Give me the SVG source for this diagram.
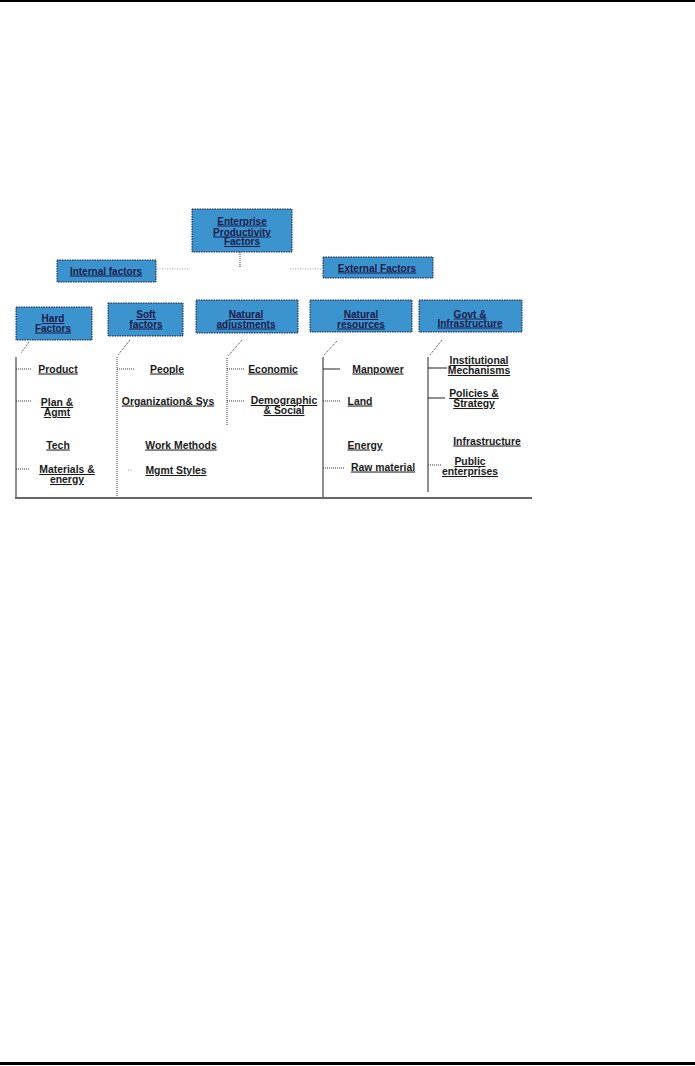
<svg xmlns="http://www.w3.org/2000/svg" width="695" height="1066" viewBox="0 0 695 1066">
<style>
.box{fill:#3c94cf;stroke:#1b1b3a;stroke-width:1;stroke-dasharray:1.5 1}
.bt{font-family:"Liberation Sans",Arial,sans-serif;font-size:10px;font-weight:bold;fill:#1a1a4a;text-decoration:underline;text-anchor:middle}
.it{font-family:"Liberation Sans",Arial,sans-serif;font-size:10.4px;font-weight:bold;fill:#1a1a1a;text-decoration:underline;text-anchor:middle}
.dot{stroke:#333;stroke-width:1;stroke-dasharray:1 1;fill:none}
.sol{stroke:#222;stroke-width:1;fill:none}
.lt{stroke:#999;stroke-width:1;stroke-dasharray:1 1.5;fill:none}
</style>
<rect x="0" y="0" width="695" height="2" fill="#000"/>
<rect x="0" y="1062" width="695" height="3" fill="#000"/>
<g id="connectors">
<line class="lt" x1="157" y1="269" x2="188" y2="269"/>
<line class="lt" x1="290" y1="269" x2="322" y2="269"/>
<line class="dot" x1="240" y1="252" x2="240" y2="268"/>
<line x1="15" y1="498" x2="532" y2="498" stroke="#333" stroke-width="1.5"/>
<path class="dot" d="M29 342 L21 353"/>
<line class="sol" x1="16" y1="357" x2="16" y2="497"/>
<line class="dot" x1="16" y1="369" x2="32" y2="369"/>
<line class="dot" x1="16" y1="401" x2="32" y2="401"/>
<line class="dot" x1="16" y1="469" x2="30" y2="469"/>
<path class="dot" d="M130 340 L118 355 M117 357 L117 497"/>
<line class="dot" x1="117" y1="369" x2="134" y2="369"/>
<line class="lt" x1="128" y1="470" x2="133" y2="470"/>
<path class="dot" d="M242 340 L228 356 M227 358 L227 425"/>
<line class="dot" x1="227" y1="369" x2="245" y2="369"/>
<line class="dot" x1="227" y1="401" x2="245" y2="401"/>
<path class="dot" d="M337 341 L324 355"/>
<line class="sol" x1="323" y1="357" x2="323" y2="497"/>
<line class="sol" x1="323" y1="369" x2="340" y2="369"/>
<line class="dot" x1="323" y1="401" x2="340" y2="401"/>
<line class="dot" x1="323" y1="468" x2="345" y2="468"/>
<path class="dot" d="M442 340 L430 355"/>
<line class="sol" x1="428" y1="357" x2="428" y2="492"/>
<line class="sol" x1="428" y1="368" x2="447" y2="368"/>
<line class="sol" x1="428" y1="398" x2="445" y2="398"/>
<line class="dot" x1="428" y1="465" x2="442" y2="465"/>
</g>
<g id="enterprise">
<rect class="box" x="192" y="209" width="100" height="43"/>
<text class="bt" x="242" y="224.5">Enterprise</text>
<text class="bt" x="242" y="235.5">Productivity</text>
<text class="bt" x="242" y="245">Factors</text>
</g>
<g id="internal">
<rect class="box" x="57" y="260" width="99" height="22"/>
<text class="bt" x="106" y="274.5">Internal factors</text>
</g>
<g id="external">
<rect class="box" x="323" y="257" width="110" height="21"/>
<text class="bt" x="377" y="271.5">External Factors</text>
</g>
<g id="hard">
<rect class="box" x="16" y="307" width="76" height="33"/>
<text class="bt" x="53" y="322">Hard</text>
<text class="bt" x="53" y="331.5">Factors</text>
</g>
<g id="soft">
<rect class="box" x="108" y="303" width="75" height="33"/>
<text class="bt" x="146" y="318">Soft</text>
<text class="bt" x="146" y="327.5">factors</text>
</g>
<g id="natadj">
<rect class="box" x="196" y="300" width="102" height="33"/>
<text class="bt" x="246" y="318">Natural</text>
<text class="bt" x="246" y="327.5">adjustments</text>
</g>
<g id="natres">
<rect class="box" x="310" y="300" width="102" height="32"/>
<text class="bt" x="361" y="318">Natural</text>
<text class="bt" x="361" y="327.5">resources</text>
</g>
<g id="govt">
<rect class="box" x="419" y="300" width="103" height="32"/>
<text class="bt" x="470" y="317.5">Govt &amp;</text>
<text class="bt" x="470" y="326.5">Infrastructure</text>
</g>
<g id="hard-items">
<text class="it" x="58" y="372.5">Product</text>
<text class="it" x="57" y="406">Plan &amp;</text>
<text class="it" x="57" y="416">Agmt</text>
<text class="it" x="58" y="448.5">Tech</text>
<text class="it" x="67" y="473">Materials &amp;</text>
<text class="it" x="67" y="483">energy</text>
</g>
<g id="soft-items">
<text class="it" x="167" y="372.5">People</text>
<text class="it" x="168" y="404.5">Organization&amp; Sys</text>
<text class="it" x="181" y="448.5">Work Methods</text>
<text class="it" x="176" y="474">Mgmt Styles</text>
</g>
<g id="natadj-items">
<text class="it" x="273" y="372.5">Economic</text>
<text class="it" x="284" y="404">Demographic</text>
<text class="it" x="284" y="414">&amp; Social</text>
</g>
<g id="natres-items">
<text class="it" x="378" y="372.5">Manpower</text>
<text class="it" x="360" y="404.5">Land</text>
<text class="it" x="365" y="448.5">Energy</text>
<text class="it" x="383" y="470.5">Raw material</text>
</g>
<g id="govt-items">
<text class="it" x="479" y="364">Institutional</text>
<text class="it" x="479" y="374">Mechanisms</text>
<text class="it" x="474" y="397">Policies &amp;</text>
<text class="it" x="474" y="407">Strategy</text>
<text class="it" x="487" y="444.5">Infrastructure</text>
<text class="it" x="470" y="465">Public</text>
<text class="it" x="470" y="475">enterprises</text>
</g>
</svg>
